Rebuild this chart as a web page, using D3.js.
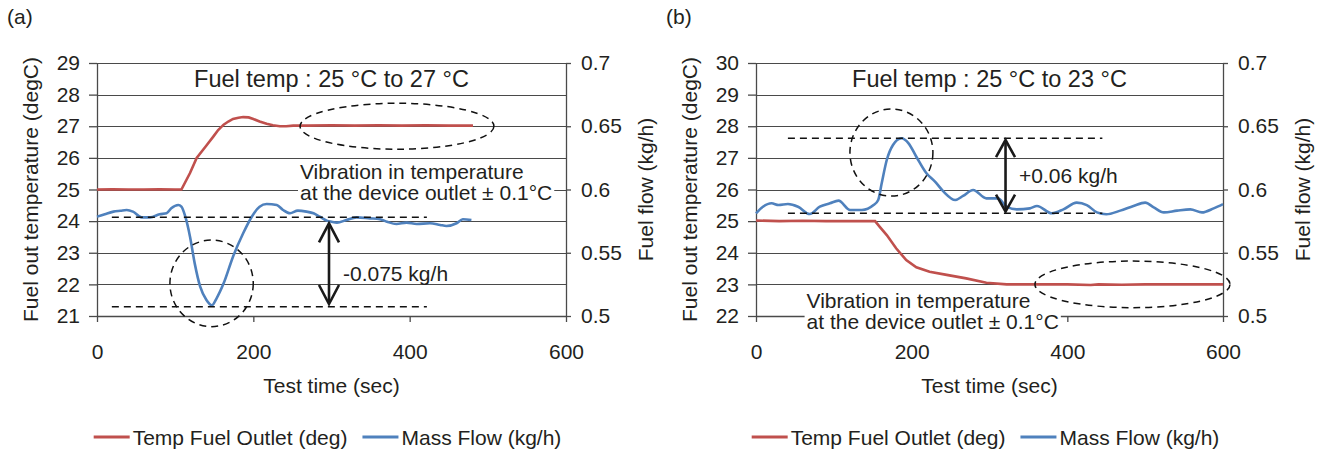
<!DOCTYPE html>
<html>
<head>
<meta charset="utf-8">
<script src="https://cdn.jsdelivr.net/npm/d3@7"></script>
<style>
  body { margin: 0; background: #fff; }
  svg text { font-family: "Liberation Sans", Arial, Helvetica, sans-serif; fill: #231f20; }
</style>
</head>
<body>
<div id="chart"></div>
<script>
// ---- data ----
var timeTicks = [0, 200, 400, 600];
var flowTicks = [0.5, 0.55, 0.6, 0.65, 0.7];
var flowTickLabels = ["0.5", "0.55", "0.6", "0.65", "0.7"];
var tempTicksA = [21, 22, 23, 24, 25, 26, 27, 28, 29];
var tempTicksB = [22, 23, 24, 25, 26, 27, 28, 29, 30];
var legendNames = ["Temp Fuel Outlet (deg)", "Mass Flow (kg/h)"];

// (a) 25 -> 27 degC  [time s, value]
var tempA = [[0,25.0],[20,25.01],[40,25.0],[60,25.0],[80,25.01],[100,25.0],[108,25.0],[119,25.52],[127.5,26.0],[140,26.39],
  [149,26.68],[155,26.88],[162,27.05],[168,27.15],[174,27.23],[181,27.27],[187,27.29],[194,27.28],[200,27.23],[208,27.15],
  [217,27.08],[225,27.03],[234,27.0],[242,27.0],[251,27.02],[270,27.02],[300,27.03],[330,27.02],[360,27.03],[390,27.02],
  [420,27.03],[450,27.02],[481,27.02]];
var flowA = [[0,0.5785],[10,0.5805],[21,0.5825],[30,0.5832],[38,0.5838],[46,0.5825],[57,0.578],[68,0.578],[80,0.5804],[89,0.5812],
  [95,0.5851],[104,0.5877],[108,0.5864],[113,0.5785],[119,0.5627],[125,0.5416],[132,0.5232],[140,0.5127],[147,0.5085],[153,0.514],
  [162,0.5258],[174,0.5469],[187,0.5654],[198,0.5785],[208,0.5864],[217,0.5885],[230,0.5877],[238,0.5838],[247,0.5812],[257,0.5833],
  [268,0.5825],[277,0.5812],[285,0.5785],[294,0.5754],[300,0.5745],[307,0.5738],[319,0.5759],[332,0.578],[349,0.5772],[362,0.5765],
  [371,0.5745],[383,0.5727],[396,0.5738],[409,0.5727],[426,0.5733],[439,0.572],[447,0.5712],[460,0.5733],[468,0.5765],[479,0.5759]];

// (b) 25 -> 23 degC
var tempB = [[0,25.02],[30,25.0],[60,25.01],[90,25.0],[120,25.0],[153,25.0],[159,24.82],[168,24.56],[180,24.14],[193,23.77],
  [206,23.54],[223,23.4],[245,23.3],[270,23.19],[296,23.05],[322,23.0],[360,23.0],[400,23.0],[430,22.98],[440,23.0],
  [470,22.99],[500,23.0],[540,23.0],[600,23.0]];
var flowB = [[0,0.5812],[9,0.5864],[20,0.5891],[29,0.5877],[41,0.5885],[54,0.5864],[69,0.5806],[82,0.5864],[95,0.5891],[106,0.5912],
  [121,0.5838],[136,0.5838],[151,0.5877],[157,0.5917],[161.5,0.6049],[168,0.6233],[176,0.6352],[187,0.6405],[196,0.6365],[206,0.6259],
  [219,0.6128],[230,0.6062],[241,0.5983],[256,0.5917],[266,0.5949],[279,0.5996],[296,0.593],[311,0.593],[322,0.5864],[335,0.5843],
  [352,0.5851],[361,0.587],[380,0.5812],[395,0.5843],[412,0.5896],[425,0.5877],[438,0.5819],[450,0.5804],[468,0.5833],[485,0.587],
  [500,0.5896],[511,0.5859],[524,0.5819],[541,0.5833],[558,0.5843],[573,0.5819],[588,0.5851],[600,0.5885]];

// annotation anchors in data units
var titleA = "Fuel temp : 25 \u00b0C to 27 \u00b0C";
var titleB = "Fuel temp : 25 \u00b0C to 23 \u00b0C";
var noteLines = ["Vibration in temperature", "at the device outlet \u00b1 0.1\u00b0C"];
var deltaA = "-0.075 kg/h";
var deltaB = "+0.06 kg/h";

var W = 1325, H = 450;
var RED = "#c0504d", BLUE = "#4f81bd", INK = "#231f20", GRID = "#4a4a4a";

var svg = d3.select("#chart").append("svg").attr("width", W).attr("height", H);

function panel(cfg) {
  var width = cfg.right - cfg.left, height = cfg.bottom - cfg.top;
  var x = d3.scaleLinear().domain([0, 600]).range([0, width]);
  var yT = d3.scaleLinear().domain(d3.extent(cfg.tempTicks)).range([height, 0]);
  var yF = d3.scaleLinear().domain([0.5, 0.7]).range([height, 0]);

  svg.append("text").attr("x", cfg.labelX).attr("y", 24).attr("font-size", 21).text(cfg.label);

  var g = svg.append("g").attr("transform", "translate(" + cfg.left + "," + cfg.top + ")");

  // gridlines
  g.selectAll(".grid").data(cfg.tempTicks).enter().append("line")
    .attr("x1", 0).attr("x2", width)
    .attr("y1", function(d) { return Math.round(yT(d)) + 0.5; })
    .attr("y2", function(d) { return Math.round(yT(d)) + 0.5; })
    .attr("stroke", GRID).attr("stroke-width", 1);

  var ax = g.append("g").attr("transform", "translate(0," + height + ")")
    .call(d3.axisBottom(x).tickValues(timeTicks).tickSize(6).tickPadding(22).tickSizeOuter(0));
  var al = g.append("g")
    .call(d3.axisLeft(yT).tickValues(cfg.tempTicks).tickSize(8).tickPadding(9).tickSizeOuter(0));
  var ar = g.append("g").attr("transform", "translate(" + width + ",0)")
    .call(d3.axisRight(yF).tickValues(flowTicks).tickFormat(function(d, i) { return flowTickLabels[i]; })
      .tickSize(5).tickPadding(10).tickSizeOuter(0));
  [ax, al, ar].forEach(function(a) {
    a.selectAll("path, line").attr("stroke", GRID).attr("stroke-width", 1.3);
    a.selectAll("text").attr("font-size", 21).attr("fill", INK).style("font-family", null);
  });

  // axis titles
  g.append("text").attr("x", width / 2).attr("y", height + 77).attr("text-anchor", "middle")
    .attr("font-size", 21).text("Test time (sec)");
  g.append("text").attr("transform", "translate(" + (-66) + "," + (height / 2) + ") rotate(-90)")
    .attr("text-anchor", "middle").attr("dy", "0.35em").attr("font-size", 21).text("Fuel out temperature (degC)");
  g.append("text").attr("transform", "translate(" + (width + 80) + "," + (height / 2) + ") rotate(-90)")
    .attr("text-anchor", "middle").attr("dy", "0.35em").attr("font-size", 21).text("Fuel flow (kg/h)");

  // series
  g.append("path").datum(cfg.temp).attr("fill", "none").attr("stroke", RED).attr("stroke-width", 2.6)
    .attr("d", d3.line().x(function(d) { return x(d[0]); }).y(function(d) { return yT(d[1]); }));
  g.append("path").datum(cfg.flow).attr("fill", "none").attr("stroke", BLUE).attr("stroke-width", 2.6)
    .attr("d", d3.line().curve(d3.curveMonotoneX).x(function(d) { return x(d[0]); }).y(function(d) { return yF(d[1]); }));

  // title
  g.append("text").attr("x", x(300)).attr("y", 24).attr("text-anchor", "middle")
    .attr("font-size", 23.5).text(cfg.title);

  // note text box (white filled)
  var nb = g.append("g");
  var nt = nb.append("text").attr("font-size", 21)
    .attr("x", x(cfg.noteAt[0])).attr("y", yT(cfg.noteAt[1]));
  noteLines.forEach(function(s, i) {
    nt.append("tspan").attr("x", x(cfg.noteAt[0])).attr("dy", i ? 21 : 0).text(s);
  });
  var bb = nt.node().getBBox();
  nb.insert("rect", "text").attr("x", bb.x - 2).attr("y", bb.y + 2).attr("width", bb.width + 4)
    .attr("height", bb.height - 3).attr("fill", "#fff");

  var dash = { stroke: "#111", "stroke-width": 1.5, "stroke-dasharray": "7,5", fill: "none" };
  function sty(sel) { for (var k in dash) sel.attr(k, dash[k]); return sel; }

  // steady-state ellipse (temperature)
  sty(g.append("ellipse").attr("cx", x(cfg.ell[0])).attr("cy", yT(cfg.ell[1]))
    .attr("rx", x(cfg.ell[2]) - x(0)).attr("ry", yT(cfg.tempTicks[0]) - yT(cfg.tempTicks[0] + cfg.ell[3])));
  // circle around flow peak
  sty(g.append("ellipse").attr("cx", x(cfg.circ[0])).attr("cy", yF(cfg.circ[1]))
    .attr("rx", x(cfg.circ[2]) - x(0)).attr("ry", yF(0.5) - yF(0.5 + cfg.circ[3])));
  // level lines
  cfg.levels.forEach(function(v) {
    sty(g.append("line").attr("x1", x(cfg.levelSpan[0])).attr("x2", x(cfg.levelSpan[1]))
      .attr("y1", yF(v)).attr("y2", yF(v)));
  });

  // double arrow
  var axp = x(cfg.arrow[0]), ya = yF(cfg.arrow[1]), yb = yF(cfg.arrow[2]);
  var hw = cfg.head[0], hl = cfg.head[1];
  var ag = g.append("g").attr("stroke", "#1a1a1a").attr("stroke-width", 2.6).attr("fill", "none");
  ag.append("line").attr("x1", axp).attr("x2", axp).attr("y1", ya + 1).attr("y2", yb - 1);
  ag.append("path").attr("d", "M" + (axp - hw) + "," + (ya + hl) + "L" + axp + "," + ya + "L" + (axp + hw) + "," + (ya + hl));
  ag.append("path").attr("d", "M" + (axp - hw) + "," + (yb - hl) + "L" + axp + "," + yb + "L" + (axp + hw) + "," + (yb - hl));

  g.append("text").attr("x", x(cfg.deltaAt[0])).attr("y", yF(cfg.deltaAt[1]))
    .attr("font-size", 21).text(cfg.delta);

  // legend
  var lg = svg.append("g");
  var cx = lg.append("g");
  var px = 0;
  [RED, BLUE].forEach(function(c, i) {
    cx.append("line").attr("x1", px).attr("x2", px + 36).attr("y1", 0).attr("y2", 0)
      .attr("stroke", c).attr("stroke-width", 3);
    var t = cx.append("text").attr("x", px + 39).attr("y", 7.5).attr("font-size", 21).text(legendNames[i]);
    px += 39 + t.node().getComputedTextLength() + 15;
  });
  var lw = px - 15;
  lg.attr("transform", "translate(" + (cfg.left + width / 2 - 4 - lw / 2) + ",437)");
}

panel({
  label: "(a)", labelX: 7, left: 97, right: 566, top: 63, bottom: 316,
  tempTicks: tempTicksA, temp: tempA, flow: flowA, title: titleA,
  noteAt: [259.7, 25.33], ell: [383.8, 27.0, 124, 0.727], circ: [146.6, 0.5258, 53.3, 0.0342],
  levels: [0.578, 0.5074], levelSpan: [19, 422], arrow: [296.8, 0.5733, 0.5095], head: [10, 19],
  delta: deltaA, deltaAt: [314.7, 0.5277]
});
panel({
  label: "(b)", labelX: 666, left: 756, right: 1223, top: 63, bottom: 316,
  tempTicks: tempTicksB, temp: tempB, flow: flowB, title: titleB,
  noteAt: [65, 22.25], ell: [483.7, 23.0, 125.3, 0.737], circ: [174, 0.6292, 53.3, 0.0344],
  levels: [0.6405, 0.5812], levelSpan: [41, 445], arrow: [320.6, 0.6391, 0.5825], head: [9.5, 17],
  delta: deltaB, deltaAt: [338, 0.6051]
});
</script>
</body>
</html>
